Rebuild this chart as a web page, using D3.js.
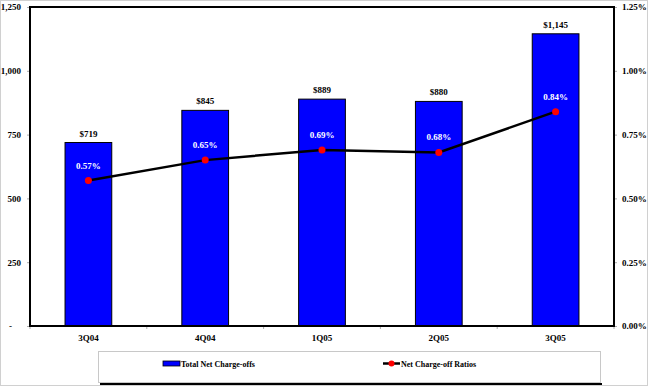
<!DOCTYPE html>
<html>
<head>
<meta charset="utf-8">
<script src="https://cdn.jsdelivr.net/npm/d3@7"></script>
<style>
  body { margin: 0; background: #fff; }
  svg { display: block; }
  text { font-family: "Liberation Serif", "Times New Roman", serif; font-weight: bold; }
</style>
</head>
<body>
<svg width="648" height="386"></svg>
<script>
const quarters = ['3Q04', '4Q04', '1Q05', '2Q05', '3Q05'];
const chargeOffs = [719, 845, 889, 880, 1145];
const ratios = [0.57, 0.65, 0.69, 0.68, 0.84];
const leftTicks = [0, 250, 500, 750, 1000, 1250];
const rightTicks = [0, 0.25, 0.5, 0.75, 1.0, 1.25];

const svg = d3.select('svg');
const largura = +svg.attr('width');
const altura = +svg.attr('height');

const marg = { cima: 7, direita: 34, baixo: 60, esquerda: 30 };
const innerL = largura - marg.esquerda - marg.direita;
const innerA = altura - marg.cima - marg.baixo;

const data = quarters.map((q, i) => ({ q, v: chargeOffs[i], r: ratios[i] }));

const x = d3.scaleBand().domain(quarters).range([0, innerL]).paddingInner(0.6).paddingOuter(0.3);
const yL = d3.scaleLinear().domain([0, 1250]).range([innerA, 0]);
const yR = d3.scaleLinear().domain([0, 1.25]).range([innerA, 0]);

// outer border
svg.append('rect').attr('x', 0.5).attr('y', 0.5).attr('width', largura - 1).attr('height', altura - 1)
  .attr('fill', 'none').attr('stroke', '#d0d0d0');

const g = svg.append('g').attr('transform', `translate(${marg.esquerda},${marg.cima})`);

// left axis
const axL = g.append('g').call(d3.axisLeft(yL).tickValues(leftTicks).tickSize(3).tickPadding(6)
  .tickFormat(d => d === 0 ? '-' : d3.format(',')(d)));
axL.select('.domain').remove();
axL.selectAll('line').attr('stroke', '#aaa');
axL.selectAll('text').attr('font-size', 9).attr('fill', '#000');
axL.selectAll('.tick').filter(d => d === 0).select('text').attr('dx', -9);

// right axis
const axR = g.append('g').attr('transform', `translate(${innerL},0)`)
  .call(d3.axisRight(yR).tickValues(rightTicks).tickSize(3).tickPadding(5)
  .tickFormat(d => d3.format('.2f')(d) + '%'));
axR.select('.domain').remove();
axR.selectAll('line').attr('stroke', '#aaa');
axR.selectAll('text').attr('font-size', 9).attr('fill', '#000');

// bottom axis tick marks at band boundaries
const bounds = d3.range(quarters.length + 1).map(i => i * innerL / quarters.length);
g.append('g').selectAll('line').data(bounds).enter().append('line')
  .attr('x1', d => d).attr('x2', d => d).attr('y1', innerA).attr('y2', innerA + 3)
  .attr('stroke', '#aaa');
g.append('g').selectAll('text').data(quarters).enter().append('text')
  .attr('x', d => x(d) + x.bandwidth() / 2).attr('y', innerA + 15)
  .attr('text-anchor', 'middle').attr('font-size', 9).text(d => d);

// bars
g.selectAll('rect.bar').data(data).enter().append('rect').attr('class', 'bar')
  .attr('x', d => x(d.q)).attr('y', d => yL(d.v))
  .attr('width', x.bandwidth()).attr('height', d => innerA - yL(d.v))
  .attr('fill', '#0000ff').attr('stroke', '#000').attr('stroke-width', 1);

// bar value labels
g.selectAll('text.val').data(data).enter().append('text').attr('class', 'val')
  .attr('x', d => x(d.q) + x.bandwidth() / 2).attr('y', d => yL(d.v) - 6)
  .attr('text-anchor', 'middle').attr('font-size', 9).text(d => '$' + d3.format(',')(d.v));

// plot frame
g.append('rect').attr('x', 0).attr('y', 0).attr('width', innerL).attr('height', innerA)
  .attr('fill', 'none').attr('stroke', '#000').attr('stroke-width', 2);

// line
const linha = d3.line().x(d => x(d.q) + x.bandwidth() / 2).y(d => yR(d.r));
g.append('path').datum(data).attr('d', linha).attr('fill', 'none')
  .attr('stroke', '#000').attr('stroke-width', 2.5);
g.selectAll('circle').data(data).enter().append('circle')
  .attr('cx', d => x(d.q) + x.bandwidth() / 2).attr('cy', d => yR(d.r)).attr('r', 3.5)
  .attr('fill', '#ff0000');
g.selectAll('text.rat').data(data).enter().append('text').attr('class', 'rat')
  .attr('x', d => x(d.q) + x.bandwidth() / 2).attr('y', d => yR(d.r) - 12)
  .attr('text-anchor', 'middle').attr('font-size', 9).attr('fill', '#fff')
  .text(d => d3.format('.2f')(d.r) + '%');

// legend
const leg = svg.append('g');
leg.append('rect').attr('x', 100).attr('y', 383).attr('width', 502).attr('height', 2).attr('fill', '#000');
leg.append('rect').attr('x', 98.5).attr('y', 351.5).attr('width', 502).attr('height', 31)
  .attr('fill', '#fff').attr('stroke', '#c8c8c8');
leg.append('rect').attr('x', 163).attr('y', 361).attr('width', 17).attr('height', 5)
  .attr('fill', '#0000ff').attr('stroke', '#000').attr('stroke-width', 0.8);
leg.append('text').attr('x', 181).attr('y', 367).attr('font-size', 8).text('Total Net Charge-offs');
leg.append('line').attr('x1', 383).attr('x2', 400).attr('y1', 363.5).attr('y2', 363.5)
  .attr('stroke', '#000').attr('stroke-width', 2.5);
leg.append('circle').attr('cx', 391.5).attr('cy', 363.5).attr('r', 3).attr('fill', '#ff0000');
leg.append('text').attr('x', 401).attr('y', 367).attr('font-size', 8).text('Net Charge-off Ratios');
</script>
</body>
</html>
